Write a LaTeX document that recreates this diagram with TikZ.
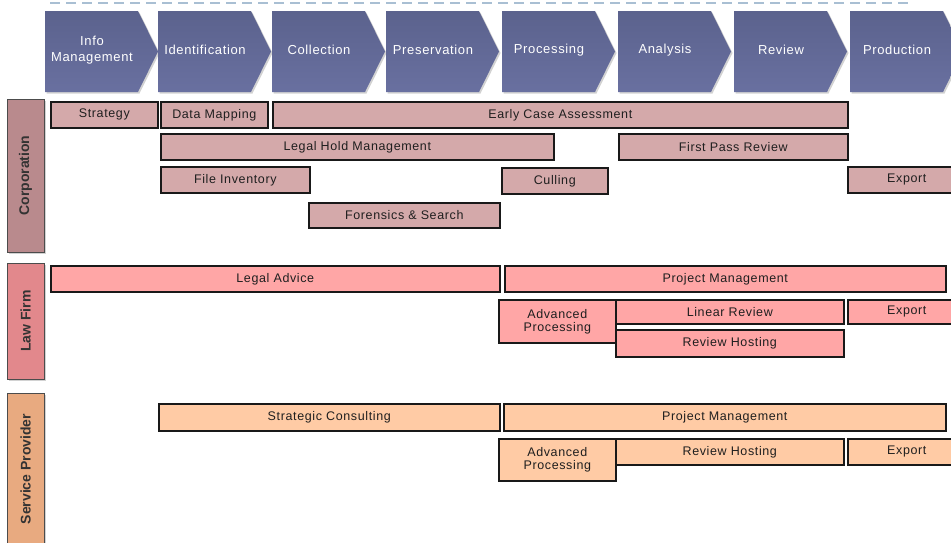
\documentclass[tikz,border=0pt]{standalone}
\usepackage{fontspec}
\setmainfont{Liberation Sans}
\newfontfamily\boxfont[LetterSpace=5]{Liberation Sans}
\usetikzlibrary{shadows}
\definecolor{chev}{HTML}{5B628D}
\definecolor{chevlight}{HTML}{6970A0}
\definecolor{corpfill}{HTML}{D4A9AA}
\definecolor{corplab}{HTML}{B98A8D}
\definecolor{lawfill}{HTML}{FFA6A6}
\definecolor{lawlab}{HTML}{E2888C}
\definecolor{spfill}{HTML}{FFCBA5}
\definecolor{splab}{HTML}{E8AA80}
\definecolor{dashcol}{HTML}{A9BFD3}
\newcommand\rbox[7]{\node[#1, minimum width=#5pt-#3pt, minimum height=#6pt-#4pt] (#2) at (#3,#4) {#7};}
\begin{document}
\begin{tikzpicture}[x=1pt,y=-1pt,
  boxbase/.style={draw=black!90, line width=1.6pt, anchor=north west, inner sep=0pt,
    font=\boxfont\fontsize{12.5}{13}\selectfont, text=black!88, align=center},
  cbox/.style={boxbase, fill=corpfill},
  lbox/.style={boxbase, fill=lawfill},
  sbox/.style={boxbase, fill=spfill},
  chevshape/.style={top color=chev, bottom color=chevlight, draw=none,
    drop shadow={opacity=0.35, shadow xshift=1.5pt, shadow yshift=-1.5pt}},
  chevtext/.style={text=white, font=\boxfont\fontsize{13}{16}\selectfont, align=center},
  sidelab/.style={draw=black!70, line width=0.8pt, rotate=90, anchor=center,
    minimum height=37pt, inner sep=0pt, font=\fontsize{14}{16}\selectfont\bfseries, text=black!80,
    drop shadow={opacity=0.35, shadow xshift=1.5pt, shadow yshift=-1.5pt}}]
\clip (0,0) rectangle (951,542);
\fill[white] (0,0) rectangle (951,542);
\draw[dashcol, line width=1.3pt, dash pattern=on 10pt off 6pt] (50,3) -- (913,3);
% chevrons
\foreach \xo/\nm/\lab in {45/im/{Info\\Management},158/id/Identification,272/co/Collection,386/pr/Preservation,502/ps/Processing,618/an/Analysis,734/rv/Review,850/pd/Production}{
  \path[chevshape] (\xo,11) -- ({\xo+93},11) -- ({\xo+113},51.5) -- ({\xo+93},92) -- (\xo,92) -- cycle;
  \node[chevtext] (h\nm) at ({\xo+47},50) {\lab};
}
% side labels
\node[sidelab, fill=corplab, minimum width=153pt] (corp) at (25.5,175.5) {Corporation};
\node[sidelab, fill=lawlab, minimum width=116pt] (law) at (25.5,321) {Law Firm};
\node[sidelab, fill=splab, minimum width=152pt] (sp) at (25.5,469) {Service Provider};
% corporation
\rbox{cbox}{strat}{50}{101}{157}{127}{Strategy}
\rbox{cbox}{datamap}{160}{101}{267}{127}{Data Mapping}
\rbox{cbox}{eca}{272}{101}{847}{127}{Early Case Assessment}
\rbox{cbox}{lhm}{160}{133}{553}{159}{Legal Hold Management}
\rbox{cbox}{fpr}{618}{133}{847}{159}{First Pass Review}
\rbox{cbox}{finv}{160}{166}{309}{192}{File Inventory}
\rbox{cbox}{cull}{501}{167}{607}{193}{Culling}
\rbox{cbox}{cexp}{847}{166}{965}{192}{Export}
\rbox{cbox}{fors}{308}{202}{499}{227}{Forensics \& Search}
% law firm
\rbox{lbox}{ladv}{50}{265}{499}{291}{Legal Advice}
\rbox{lbox}{lpm}{504}{265}{945}{291}{Project Management}
\rbox{lbox}{ladp}{498}{299}{615}{342}{Advanced\\Processing}
\rbox{lbox}{llr}{615}{299}{843}{323}{Linear Review}
\rbox{lbox}{lrh}{615}{329}{843}{356}{Review Hosting}
\rbox{lbox}{lexp}{847}{299}{965}{323}{Export}
% service provider
\rbox{sbox}{ssc}{158}{403}{499}{430}{Strategic Consulting}
\rbox{sbox}{spm}{503}{403}{945}{430}{Project Management}
\rbox{sbox}{sadp}{498}{438}{615}{480}{Advanced\\Processing}
\rbox{sbox}{srh}{615}{438}{843}{464}{Review Hosting}
\rbox{sbox}{sexp}{847}{438}{965}{464}{Export}
\end{tikzpicture}
\end{document}
